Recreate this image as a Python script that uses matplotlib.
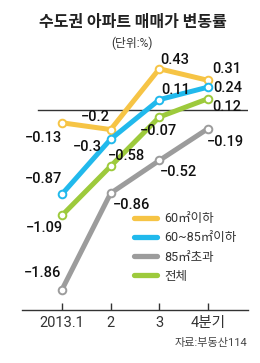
import matplotlib
matplotlib.use("Agg")
import matplotlib.pyplot as plt
from matplotlib.lines import Line2D

plt.rcParams['font.family'] = ['Roboto', 'Noto Sans CJK KR', 'DejaVu Sans']

quarters = [1, 2, 3, 4]
tick_labels = ["2013.1", "2", "3", "4분기"]
series_names = ["60㎡이하", "60~85㎡이하", "85㎡초과", "전체"]
v_60 = [-0.13, -0.2, 0.43, 0.31]
v_60_85 = [-0.87, -0.3, 0.11, 0.24]
v_85 = [-1.86, -0.86, -0.52, -0.19]
v_all = [-1.09, -0.58, -0.07, 0.12]
series_values = [v_60, v_60_85, v_85, v_all]
colors = ["#F6C445", "#21B9EC", "#9C9C9C", "#9DCA3C"]

# label offsets in pixels (dx, dy) per series per point
offsets = [
    [(-18, -15), (-15, 13), (15, 9), (19, 11)],
    [(-18, 15), (-23, -8), (16, 10), (20, -1)],
    [(-19, 17), (21, -12), (19, -12), (17, -13)],
    [(-18, -13), (16, 10), (-1, -14), (19, -8)],
]

W, H = 260, 363
fig = plt.figure(figsize=(W / 100, H / 100), dpi=100)
ax = fig.add_axes([22 / W, (H - 310) / H, 226 / W, 275 / H])
ax.set_xlim(0.18, 4.82)
ax.set_ylim(-2.07, 0.78)

ax.axhline(0, xmin=16 / 226, xmax=1.0, color="#333333", lw=1.0, zorder=1)

draw_order = [2, 3, 1, 0]
for i in draw_order:
    ax.plot(quarters, series_values[i], color=colors[i], lw=3.6,
            solid_capstyle="round", solid_joinstyle="round",
            marker="o", ms=5.5, mfc="white", mec=colors[i], mew=1.4,
            zorder=3 + i, clip_on=False)

for i in range(4):
    for q, v, (dx, dy) in zip(quarters, series_values[i], offsets[i]):
        s = f"{v:g}".replace("-", "−")
        ax.annotate(s, (q, v), xytext=(dx, dy), textcoords="offset pixels",
                    ha="center", va="center", fontsize=10.5, fontweight="medium",
                    color="#111111", zorder=10, annotation_clip=False)

for sp in ["top", "right", "left"]:
    ax.spines[sp].set_visible(False)
ax.spines["bottom"].set_color("#333333")
ax.spines["bottom"].set_linewidth(1.0)
ax.set_yticks([])
ax.set_xticks(quarters)
ax.set_xticklabels(tick_labels)
ax.tick_params(axis="x", direction="in", length=5, width=1, color="#333333",
               labelsize=10.5, labelcolor="#333333", pad=4)
ax.patch.set_alpha(0)

handles = [Line2D([], [], color=c, lw=3.8, solid_capstyle="round") for c in colors]
leg = fig.legend(handles, series_names, loc="upper left",
                 bbox_to_anchor=(134 / W, 1 - 212 / H), frameon=False,
                 fontsize=9, handlelength=1.8, handletextpad=0.6,
                 labelspacing=0.5, borderpad=0, borderaxespad=0)
for t in leg.get_texts():
    t.set_color("#333333")

fig.text(133 / W, 1 - 22 / H, "수도권 아파트 매매가 변동률", ha="center", va="center",
         fontsize=11.5, fontweight="bold", color="#222222",
         family=["Noto Sans CJK KR"])
fig.text(132 / W, 1 - 43 / H, "(단위:%)", ha="center", va="center",
         fontsize=8.5, color="#333333")
fig.text(247 / W, 1 - 343 / H, "자료:부동산114", ha="right", va="center",
         fontsize=8, color="#444444")

fig.savefig("out.png", dpi=100)
